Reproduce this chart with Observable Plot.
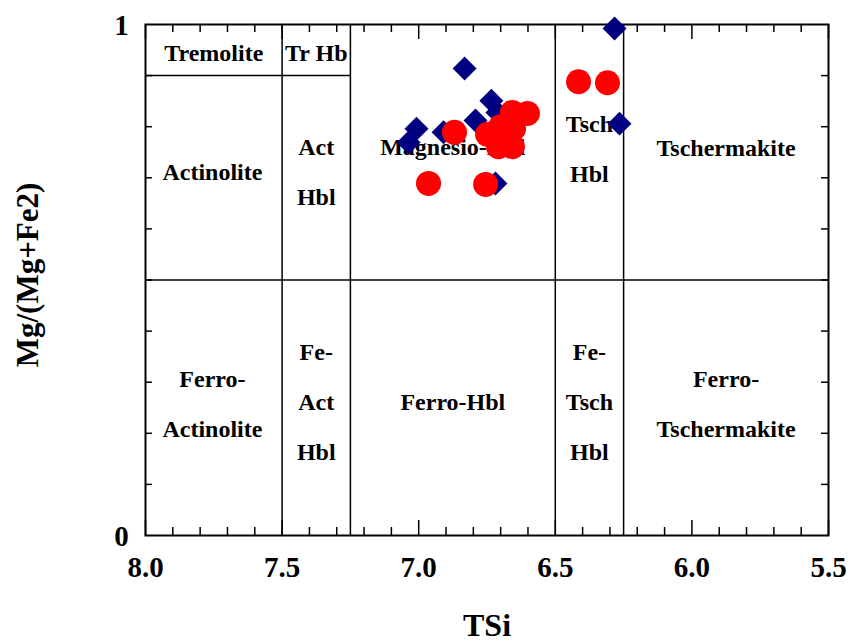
<!DOCTYPE html>
<html>
<head>
<meta charset="utf-8">
<script src="https://cdn.jsdelivr.net/npm/d3@7"></script>
<script src="https://cdn.jsdelivr.net/npm/@observablehq/plot@0.6"></script>
<style>
  html, body { margin: 0; padding: 0; background: #fff; }
</style>
</head>
<body>
<div id="chart"></div>
<script>
// ---- Data ----
const blueTSi = [6.283, 6.832, 6.265, 6.734, 6.792, 6.712, 7.008, 7.037, 6.909, 6.719];
const blueMg  = [0.992, 0.914, 0.806, 0.851, 0.812, 0.828, 0.796, 0.769, 0.789, 0.689];

const redTSi = [6.415, 6.309, 6.964, 6.755, 6.869, 6.657, 6.602, 6.748, 6.708, 6.657, 6.653, 6.700];
const redMg  = [0.888, 0.886, 0.689, 0.687, 0.789, 0.828, 0.826, 0.785, 0.761, 0.761, 0.796, 0.800];

const xTickLabels = [8.0, 7.5, 7.0, 6.5, 6.0, 5.5];
const xMinorTicks = d3.range(80, 54, -1).map(v => v / 10);
const yTickLabels = [0, 1];
const yMinorTicks = d3.range(1, 10).map(v => v / 10);

const verticalBoundaries = [7.5, 7.25, 6.5, 6.25];
const horizontalBoundary = [0.5];
const tremoliteBoundary = [{x1: 8.0, x2: 7.25, y: 0.9}];

// field labels
const fieldLabels = [
  {x: 7.75, y: 0.942, lines: ["Tremolite"]},
  {x: 7.375, y: 0.942, lines: ["Tr Hb"]},
  {x: 7.755, y: 0.710, lines: ["Actinolite"]},
  {x: 7.375, y: 0.709, lines: ["Act", "Hbl"]},
  {x: 6.875, y: 0.759, lines: ["Magnesio-Hbl"]},
  {x: 6.375, y: 0.755, lines: ["Tsch", "Hbl"]},
  {x: 5.875, y: 0.757, lines: ["Tschermakite"]},
  {x: 7.755, y: 0.256, lines: ["Ferro-", "Actinolite"]},
  {x: 7.375, y: 0.260, lines: ["Fe-", "Act", "Hbl"]},
  {x: 6.875, y: 0.260, lines: ["Ferro-Hbl"]},
  {x: 6.375, y: 0.260, lines: ["Fe-", "Tsch", "Hbl"]},
  {x: 5.875, y: 0.256, lines: ["Ferro-", "Tschermakite"]}
];

const blue = blueTSi.map((x, i) => ({x, y: blueMg[i]}));
const red = redTSi.map((x, i) => ({x, y: redMg[i]}));

const W = 851, H = 642;
const mL = 145, mR = 23, mT = 24, mB = 107;
const innerW = W - mL - mR;
const innerH = H - mT - mB;
const font = "'Liberation Serif', 'Times New Roman', serif";

const majorX = new Set(xTickLabels.map(v => v.toFixed(1)));
const minorX = xMinorTicks.filter(d => !majorX.has(d.toFixed(1)));

const chart = Plot.plot({
  width: W,
  height: H,
  marginLeft: mL,
  marginRight: mR,
  marginTop: mT,
  marginBottom: mB,
  style: {fontFamily: font, background: "#fff", overflow: "visible"},
  x: {domain: [8.0, 5.5], axis: null},
  y: {domain: [0, 1], axis: null},
  marks: [
    // boundaries
    Plot.ruleX(verticalBoundaries, {stroke: "#000", strokeWidth: 1.5}),
    Plot.ruleY(horizontalBoundary, {stroke: "#000", strokeWidth: 1.5}),
    Plot.ruleY(tremoliteBoundary, {y: "y", x1: "x1", x2: "x2", stroke: "#000", strokeWidth: 1.5}),
    // bottom ticks
    Plot.ruleX(minorX, {stroke: "#000", strokeWidth: 1.5, insetTop: innerH - 8}),
    Plot.ruleX(xTickLabels, {stroke: "#000", strokeWidth: 1.5, insetTop: innerH - 15}),
    // top ticks
    Plot.ruleX(minorX, {stroke: "#000", strokeWidth: 1.5, insetBottom: innerH - 8}),
    Plot.ruleX(xTickLabels, {stroke: "#000", strokeWidth: 1.5, insetBottom: innerH - 15}),
    // left / right ticks
    Plot.ruleY(yMinorTicks, {stroke: "#000", strokeWidth: 1.5, insetRight: innerW - 7}),
    Plot.ruleY(yMinorTicks, {stroke: "#000", strokeWidth: 1.5, insetLeft: innerW - 7}),
    Plot.frame({stroke: "#000", strokeWidth: 2}),
    // tick labels
    Plot.text(xTickLabels, {x: d => d, frameAnchor: "bottom", dy: 41, text: d => d.toFixed(1),
      fontSize: 29, fontWeight: "bold", fill: "#000"}),
    Plot.text(yTickLabels, {y: d => d, frameAnchor: "left", textAnchor: "middle", dx: -24, dy: 1,
      text: d => String(d), fontSize: 29, fontWeight: "bold", fill: "#000"}),
    // field labels
    Plot.text(fieldLabels, {x: "x", y: "y", text: d => d.lines.join("\n"), lineHeight: 2.08,
      dy: -9, fontSize: 24, fontWeight: "bold", fill: "#000"}),
    // data
    Plot.dot(blue, {x: "x", y: "y", symbol: "diamond2", r: 10.8, fill: "#000080", stroke: "none"}),
    Plot.dot(red, {x: "x", y: "y", r: 12.5, fill: "#ff0000", stroke: "none"}),
    // axis titles
    Plot.text(["TSi"], {frameAnchor: "bottom", dy: 100, fontSize: 32, fontWeight: "bold", fill: "#000"}),
    Plot.text(["Mg/(Mg+Fe2)"], {frameAnchor: "left", textAnchor: "middle", dx: -117, dy: -5, rotate: -90,
      fontSize: 31, fontWeight: "bold", fill: "#000"})
  ]
});

document.getElementById("chart").appendChild(chart);
</script>
</body>
</html>
